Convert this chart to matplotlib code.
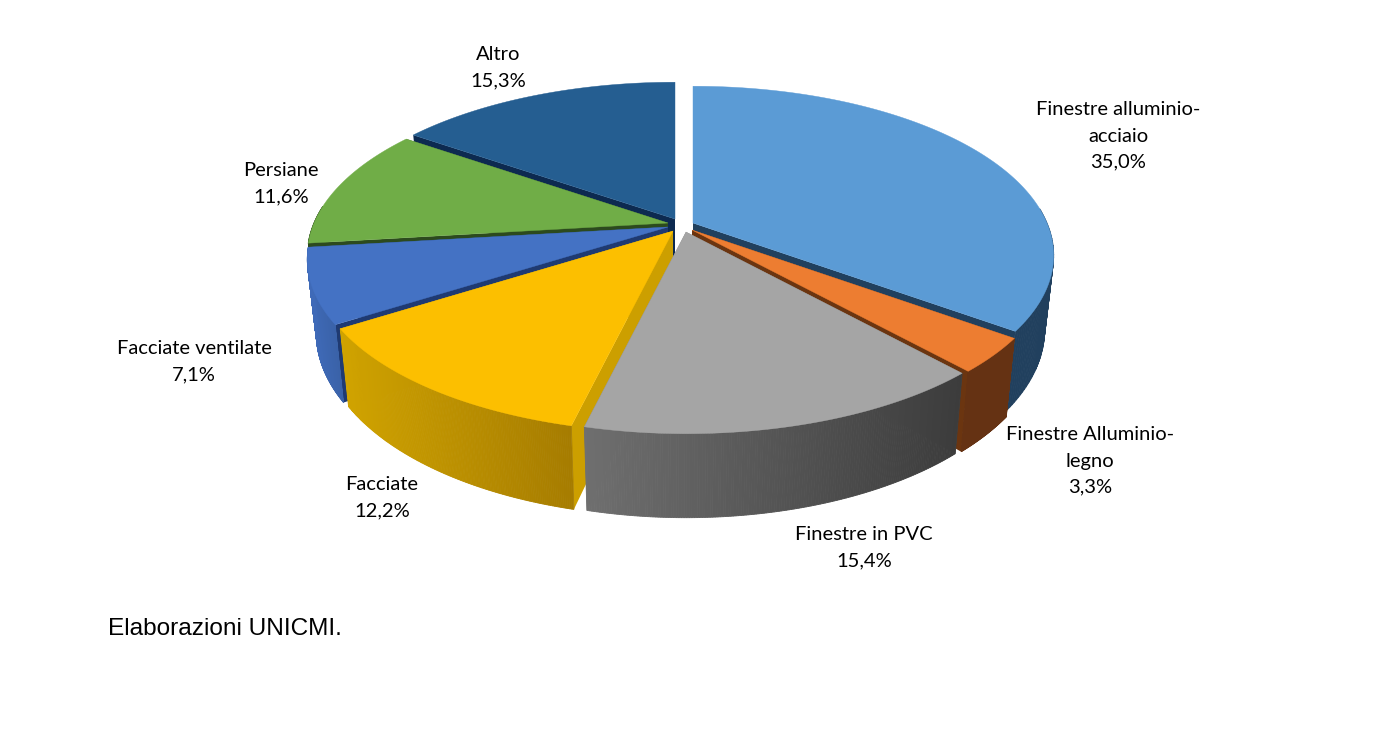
import numpy as np
import matplotlib
matplotlib.use('Agg')
import matplotlib.pyplot as plt
from matplotlib.colors import to_rgb

labels = ['Finestre alluminio-\nacciaio', 'Finestre Alluminio-\nlegno', 'Finestre in PVC',
          'Facciate', 'Facciate ventilate', 'Persiane', 'Altro']
values = [35.0, 3.3, 15.4, 12.2, 7.1, 11.6, 15.3]

top_colors = ['#5b9bd5', '#ed7d31', '#a5a5a5', '#fcbf00', '#4472c4', '#70ad47', '#255e91']
wall_left = ['#21405e', '#653213', '#6f6f6f', '#d0a300', '#3f6ab8', '#2c4a1e', '#1a4468']
wall_right = ['#21405e', '#653213', '#3c3c3c', '#a67c00', '#3a62a8', '#2c4a1e', '#1a4468']
cut_colors = ['#21405e', '#6b3510', '#6f6f6f', '#cc9f00', '#1f3a72', '#2c4a1e', '#0d2a50']

# how far each slice is pulled out, in pixels
explode_dx = [13, 12, 6, -7, -12, -12, -5]
explode_dy = [-6, 1, 3, 2, -2, -6, -10]

# label anchor (pixels), style only
label_pos = [(1118, 136), (1090, 461), (864, 548), (382, 498), (194, 362), (281, 184), (498, 68)]

# pie geometry in pixels
cx, cy = 680, 229
a, b = 354, 163
persp = 0.1917
depth = 72
shrink = 0.025


def project(u, v, z=0.0):
    s = 1 / (1 - persp * v)
    k = 1 - shrink * z
    return a * u * s * k, b * v * s * k + depth * s * z


def mix(c1, c2, t):
    c1, c2 = np.array(to_rgb(c1)), np.array(to_rgb(c2))
    return tuple(c1 + (c2 - c1) * t)


fig = plt.figure(figsize=(13.85, 7.36), dpi=100, facecolor='white')
ax = fig.add_axes([0, 0, 1, 1])
ax.set_xlim(0, 1385)
ax.set_ylim(736, 0)
ax.axis('off')

total = sum(values)
fracs = np.array(values) / total
ends = np.cumsum(fracs) * 2 * np.pi
starts = ends - fracs * 2 * np.pi
mids = (starts + ends) / 2

# back slices first
order = np.argsort(-np.cos(mids))

for i in order:
    th = np.linspace(starts[i], ends[i], 160)
    ox, oy = cx + explode_dx[i], cy + explode_dy[i]
    u = np.sin(th)
    v = -np.cos(th)

    xt, yt = project(u, v)
    xb, yb = project(u, v, 1)
    xt, xb = xt + ox, xb + ox
    yt, yb = yt + oy, yb + oy
    ax0, ay0 = project(0, 0)
    bx0, by0 = project(0, 0, 1)

    # the two cut faces
    for j in (0, -1):
        ax.fill([ax0 + ox, xt[j], xb[j], bx0 + ox], [ay0 + oy, yt[j], yb[j], by0 + oy],
                color=cut_colors[i], lw=0, zorder=2)

    # rim, split in strips for the gradient
    x0, x1 = xt.min(), xt.max()
    for j in range(len(th) - 1):
        if v[j] < -0.1:
            continue  # back of the rim, hidden anyway
        t = (xt[j] - x0) / (x1 - x0)
        c = mix(wall_left[i], wall_right[i], t)
        ax.fill([xt[j], xt[j + 1], xb[j + 1], xb[j]], [yt[j], yt[j + 1], yb[j + 1], yb[j]],
                color=c, lw=0.6, zorder=2)

    ax.fill(np.r_[ax0 + ox, xt], np.r_[ay0 + oy, yt], color=top_colors[i], lw=0.3, zorder=2)

for lab, val, (lx, ly) in zip(labels, values, label_pos):
    txt = lab + '\n' + f'{val:.1f}'.replace('.', ',') + '%'
    ax.text(lx, ly, txt, ha='center', va='center', fontsize=14.5, family='Lato',
            color='black', linespacing=1.66, zorder=5)

ax.text(108, 629, 'Elaborazioni UNICMI.', ha='left', va='center', fontsize=17.6,
        family='Liberation Sans', color='black', zorder=5)

fig.savefig('out.png', dpi=100, facecolor='white')
